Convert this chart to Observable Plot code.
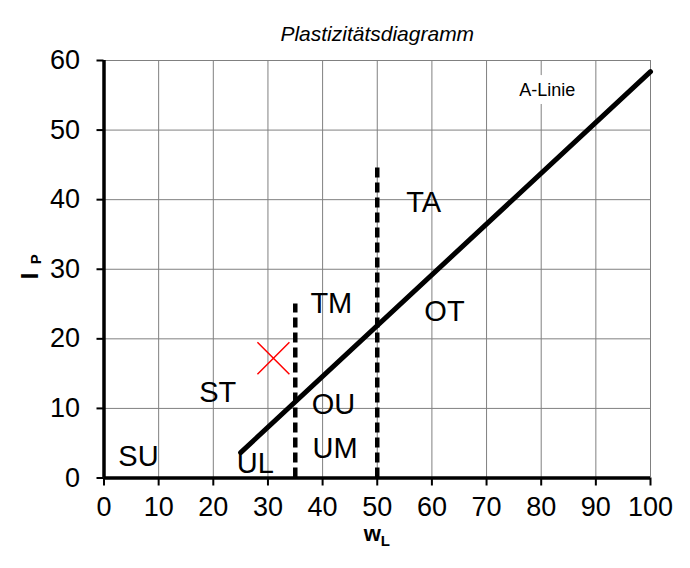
<!DOCTYPE html>
<html>
<head>
<meta charset="utf-8">
<script src="https://cdn.jsdelivr.net/npm/d3@7"></script>
<script src="https://cdn.jsdelivr.net/npm/@observablehq/plot@0.6"></script>
<style>
  body { margin: 0; background: #fff; }
  svg { display: block; }
</style>
</head>
<body>
<div id="chart"></div>
<script>
// Axis ticks
const xTicks = [0, 10, 20, 30, 40, 50, 60, 70, 80, 90, 100];
const yTicks = [0, 10, 20, 30, 40, 50, 60];

// A-Linie endpoints (w_L, I_P)
const aLineW = [25, 100];
const aLineI = [3.65, 58.4];

// Vertical dashed boundaries at w_L = 35 and 50
const boundW = [35, 50];
const boundTop = [25, 45];

// Soil group zone labels
const zoneNames = ["SU", "UL", "ST", "UM", "OU", "TM", "OT", "TA"];
const zoneW = [6.3, 27.7, 20.8, 42.3, 42.0, 41.6, 62.3, 58.5];
const zoneI = [3.1, 2.1, 12.3, 4.2, 10.6, 25.0, 23.9, 39.5];

// Sample point
const sampleW = [31];
const sampleI = [17.2];

const aLine = aLineW.map((w, i) => ({w, ip: aLineI[i]}));
const bounds = boundW.map((w, i) => ({w, top: boundTop[i]}));
const zones = zoneNames.map((name, i) => ({name, w: zoneW[i], ip: zoneI[i]}));
const samples = sampleW.map((w, i) => ({w, ip: sampleI[i]}));

const font = "'Liberation Sans', Arial, Helvetica, sans-serif";

const chart = Plot.plot({
  width: 690,
  height: 568,
  marginTop: 60,
  marginBottom: 90.5,
  marginLeft: 103.5,
  marginRight: 40,
  style: {fontFamily: font, background: "#fff", color: "#000"},
  x: {domain: [0, 100]},
  y: {domain: [0, 60]},
  marks: [
    Plot.gridX(xTicks.filter(d => d > 0), {stroke: "#808080", strokeOpacity: 1, strokeWidth: 1}),
    Plot.gridY(yTicks.filter(d => d > 0), {stroke: "#808080", strokeOpacity: 1, strokeWidth: 1}),
    Plot.axisX(xTicks, {tickSize: 8, tickPadding: 11, fontSize: 27, strokeWidth: 2, label: null}),
    Plot.axisY(yTicks, {tickSize: 7, tickPadding: 17, fontSize: 27, strokeWidth: 2, label: null}),
    Plot.ruleY([0], {stroke: "#000", strokeWidth: 3.5}),
    Plot.ruleX([0], {stroke: "#000", strokeWidth: 3.5}),
    // boundaries
    Plot.ruleX(bounds, {x: "w", y1: 0, y2: "top", stroke: "#000", strokeWidth: 4.5, strokeDasharray: "10,5"}),
    // A-Linie
    Plot.line(aLine, {x: "w", y: "ip", stroke: "#000", strokeWidth: 5}),
    // zone names
    Plot.text(zones, {x: "w", y: "ip", text: "name", fontSize: 29, fill: "#000"}),
    Plot.text(["A-Linie"], {x: 81.1, y: 55.7, text: d => d, fontSize: 18, fill: "#000", stroke: "#fff", strokeWidth: 16, strokeLinejoin: "round"}),
    // sample
    Plot.dot(samples, {x: "w", y: "ip", symbol: "times", r: 14.6, stroke: "red", strokeWidth: 1.5}),
    // title
    Plot.text(["Plastizitätsdiagramm"], {frameAnchor: "top", dy: -34, text: d => d, fontSize: 21, fontStyle: "italic", fill: "#000"}),
    // x label w_L
    Plot.text(["w"], {frameAnchor: "bottom", dx: -5, dy: 63, text: d => d, fontSize: 22, fontWeight: "bold", fill: "#000"}),
    Plot.text(["L"], {frameAnchor: "bottom", dx: 8, dy: 68, text: d => d, fontSize: 15, fontWeight: "bold", fill: "#000"}),
    // y label I_P
    Plot.text(["I"], {frameAnchor: "left", dx: -74, dy: 10, rotate: -90, text: d => d, fontSize: 24, fontWeight: "bold", fill: "#000"}),
    Plot.text(["P"], {frameAnchor: "left", dx: -68, dy: -5, rotate: -90, text: d => d, fontSize: 15, fontWeight: "bold", fill: "#000"})
  ]
});
document.getElementById("chart").append(chart);
</script>
</body>
</html>
